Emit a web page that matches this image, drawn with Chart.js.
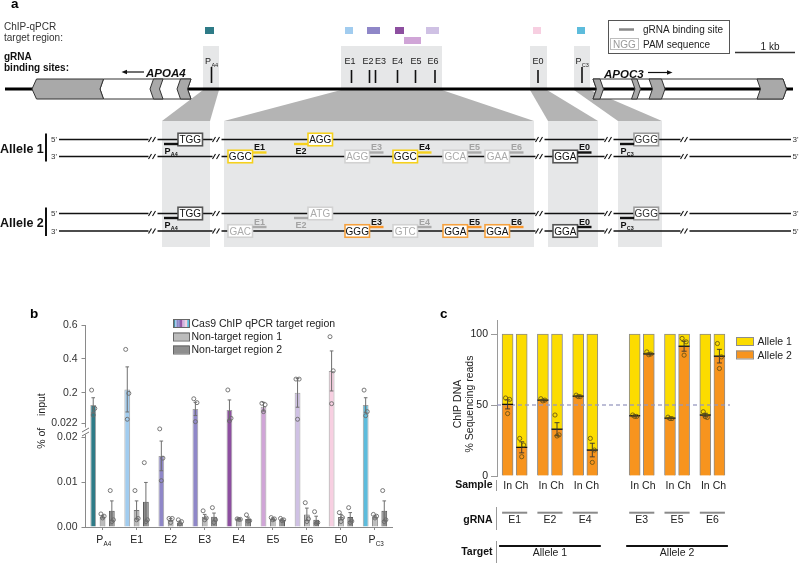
<!DOCTYPE html>
<html><head><meta charset="utf-8">
<script src="https://cdn.jsdelivr.net/npm/chart.js@4.4.1/dist/chart.umd.min.js"></script>
<style>
html,body{margin:0;padding:0;background:#fff;}
#wrap{position:relative;width:800px;height:563px;overflow:hidden;background:#fff;}
canvas{position:absolute;}
</style></head>
<body><div id="wrap">
<canvas id="ca" width="800" height="290" style="left:0;top:0"></canvas>
<canvas id="cb" width="400" height="273" style="left:0;top:290px"></canvas>
<canvas id="cc" width="400" height="273" style="left:400px;top:290px"></canvas>
</div>
<script>
// ================= DATA =================
// ---- panel b : Cas9 ChIP-qPCR (% of input) ----
const bCategories = ['PA4','E1','E2','E3','E4','E5','E6','E0','PC3'];
const bLabelMain  = ['P','E1','E2','E3','E4','E5','E6','E0','P'];
const bLabelSub   = ['A4','','','','','','','','C3'];
const bTargetMean = [0.128, 0.220, 0.0158, 0.105, 0.099, 0.118, 0.200, 0.329, 0.128];
const bTargetSem  = [0.043, 0.133, 0.0033, 0.039, 0.059, 0.026, 0.085, 0.118, 0.043];
const bTargetPoints = [
  [0.216, 0.108, 0.069], [0.456, 0.197, 0.044], [0.0218, 0.0153, 0.0103],
  [0.165, 0.142, 0.030], [0.217, 0.050, 0.034], [0.138, 0.130, 0.089],
  [0.281, 0.281, 0.044], [0.531, 0.330, 0.136], [0.216, 0.089, 0.065]];
const bNT1Mean = [0.0023, 0.0038, 0.0016, 0.0023, 0.0018, 0.0018, 0.0028, 0.0022, 0.0023];
const bNT1Sem  = [0.0003, 0.0020, 0.0003, 0.0005, 0.0001, 0.0002, 0.0014, 0.0006, 0.0003];
const bNT1Points = [
  [0.0029, 0.0024, 0.0020], [0.0081, 0.0019, 0.0016], [0.0019, 0.0019, 0.0010],
  [0.0036, 0.0020, 0.0016], [0.0018, 0.0017, 0.0017], [0.0021, 0.0018, 0.0016],
  [0.0054, 0.0018, 0.0012], [0.0032, 0.0021, 0.0012], [0.0028, 0.0024, 0.0020]];
const bNT2Mean = [0.0036, 0.0056, 0.0010, 0.0023, 0.0018, 0.0016, 0.0016, 0.0022, 0.0036];
const bNT2Sem  = [0.0022, 0.0043, 0.0003, 0.0008, 0.0004, 0.0002, 0.0008, 0.0010, 0.0022];
const bNT2Points = [
  [0.0081, 0.0016, 0.0012], [0.0143, 0.0016, 0.0012], [0.0016, 0.0012, 0.0007],
  [0.0043, 0.0016, 0.0010], [0.0027, 0.0014, 0.0013], [0.0019, 0.0016, 0.0014],
  [0.0034, 0.0010, 0.0008], [0.0043, 0.0013, 0.0010], [0.0081, 0.0016, 0.0012]];
const bYTicks      = [0, 0.01, 0.02, 0.022, 0.2, 0.4, 0.6];
const bYTickLabels = ['0.00', '0.01', '0.02', '0.022', '0.2', '0.4', '0.6'];
const bSeriesNames = ['Cas9 ChIP qPCR target region', 'Non-target region 1', 'Non-target region 2'];

// ---- panel c : allele-specific ChIP reads (%) ----
const cGuides  = ['E1','E2','E4','E3','E5','E6'];
const cTargets = ['Allele 1','Allele 2'];
const cSamples = ['In','Ch'];
const cAllele2 = [50.5, 20.2, 53.5, 33.0, 56.3, 18.3, 42.5, 86.1, 40.8, 91.5, 43.0, 84.5];
const cAllele1 = [49.5, 79.8, 46.5, 67.0, 43.7, 81.7, 57.5, 13.9, 59.2, 8.5, 57.0, 15.5];
const cSem     = [3.2, 3.9, 0.5, 4.6, 0.4, 4.8, 0.3, 0.6, 0.3, 3.5, 1.2, 4.8];
const cPoints  = [
  [55.0, 54.0, 44.0], [26.5, 21.8, 13.6], [54.5, 53.5, 53.0], [43.0, 29.0, 28.2],
  [57.0, 56.0, 56.0], [26.5, 18.3, 9.6],  [43.0, 42.0, 42.0], [87.5, 86.0, 85.5],
  [41.5, 40.5, 40.5], [97.0, 94.6, 85.2], [45.3, 41.3, 41.8], [93.4, 84.0, 75.8]];
const cYTicks = [0, 50, 100];

// ---- panel a : schematic content ----
const aTargetNames = ['PA4','E1','E2-E3','E4','E5','E6','E0','PC3'];
const aSiteNames   = ['PA4','E1','E2','E3','E4','E5','E6','E0','PC3'];
const allele1Sites = [
  {seq:'TGG', strand:'top', st:'dark',   g:'PA4'}, {seq:'AGG', strand:'top', st:'yellow', g:'E2'},
  {seq:'GGG', strand:'top', st:'light',  g:'PC3'}, {seq:'GGC', strand:'bot', st:'yellow', g:'E1'},
  {seq:'AGG', strand:'bot', st:'gray',   g:'E3'},  {seq:'GGC', strand:'bot', st:'yellow', g:'E4'},
  {seq:'GCA', strand:'bot', st:'gray',   g:'E5'},  {seq:'GAA', strand:'bot', st:'gray',   g:'E6'},
  {seq:'GGA', strand:'bot', st:'dark',   g:'E0'}];
const allele2Sites = [
  {seq:'TGG', strand:'top', st:'dark',   g:'PA4'}, {seq:'ATG', strand:'top', st:'gray',   g:'E2'},
  {seq:'GGG', strand:'top', st:'light',  g:'PC3'}, {seq:'GAC', strand:'bot', st:'gray',   g:'E1'},
  {seq:'GGG', strand:'bot', st:'orange', g:'E3'},  {seq:'GTC', strand:'bot', st:'gray',   g:'E4'},
  {seq:'GGA', strand:'bot', st:'orange', g:'E5'},  {seq:'GGA', strand:'bot', st:'orange', g:'E6'},
  {seq:'GGA', strand:'bot', st:'dark',   g:'E0'}];

// ================= STYLE / LAYOUT =================
const FONT = '"Liberation Sans", Arial, Helvetica, sans-serif';
Chart.defaults.font.family = FONT;
Chart.defaults.color = '#222';
const siteColor = {PA4:'#2e7b87', E1:'#a1ccef', E2:'#8f87c8', E3:'#8f87c8', E4:'#8d4fa0', E5:'#d0a5d7', E6:'#cfc1e4', E0:'#f7cfe1', PC3:'#5dbcdc'};

function txt(ctx, s, x, y, size, o) {
  o = o || {};
  ctx.save();
  ctx.font = (o.style || '') + ' ' + (o.weight || 'normal') + ' ' + size + 'px ' + FONT;
  ctx.fillStyle = o.color || '#222';
  ctx.textAlign = o.align || 'left';
  ctx.textBaseline = 'alphabetic';
  if (o.rot) { ctx.translate(x, y); ctx.rotate(o.rot); ctx.fillText(s, 0, 0); }
  else ctx.fillText(s, x, y);
  ctx.restore();
}
function subTxt(ctx, main, sub, x, y, size, o) {
  o = o || {};
  ctx.save();
  const w = o.weight || 'normal';
  const s2 = size * (o.subScale || 0.62);
  ctx.font = w + ' ' + size + 'px ' + FONT; const w1 = ctx.measureText(main).width;
  ctx.font = w + ' ' + s2 + 'px ' + FONT; const w2 = sub ? ctx.measureText(sub).width : 0;
  let x0 = x;
  if (o.align === 'center') x0 = x - (w1 + w2) / 2;
  ctx.fillStyle = o.color || '#222'; ctx.textAlign = 'left'; ctx.textBaseline = 'alphabetic';
  ctx.font = w + ' ' + size + 'px ' + FONT; ctx.fillText(main, x0, y);
  if (sub) { ctx.font = w + ' ' + s2 + 'px ' + FONT; ctx.fillText(sub, x0 + w1 + 0.3, y + size * 0.3); }
  ctx.restore();
}
function splitSite(n) { return n[0] === 'P' ? ['P', n.slice(1)] : [n, '']; }

// ================= PANEL A (schematic drawn through chart A scales) =================
const aLayout = {
  targets: [[205,214,27],[345,353,27],[367,380,27],[395,404,27],[404,421,37],[426,439,27],[533,541,27],[577,585,27]],
  siteTick: [211.5, 351.5, 369.5, 375.5, 397.5, 415.5, 435, 538, 582],
  siteLabel:[211.5, 350, 368, 380.5, 397.5, 416, 433, 538, 582],
  regions: [{up:[203,219], low:[162,210]}, {up:[341,442], low:[224,534]}, {up:[530,547], low:[548,598]}, {up:[574,590], low:[618,662]}],
  pamX: [178, 308, 634, 228, 345, 393, 443, 485, 553],
  rows: [{top:139.5, bot:156.5}, {top:213.5, bot:231}],
  breaks: [153, 217, 540, 609, 685]
};
const boxStyle = {dark:{s:'#555',t:'#111'}, light:{s:'#9b9b9b',t:'#333'}, yellow:{s:'#f6d11c',t:'#111'}, orange:{s:'#f5a13e',t:'#111'}, gray:{s:'#d2d2d2',t:'#ababab'}};
const guideColor = {dark:'#111', light:'#111', yellow:'#f6d11c', orange:'#f7962b', gray:'#ababab'};

const diagramPlugin = {
  id: 'diagram',
  afterDraw(chart) {
    const ctx = chart.ctx, sx = chart.scales.x, sy = chart.scales.y;
    const X = v => sx.getPixelForValue(v), Y = v => sy.getPixelForValue(v);
    const poly = (pts, fill, stroke, lw) => {
      ctx.beginPath();
      pts.forEach((p, i) => i ? ctx.lineTo(X(p[0]), Y(p[1])) : ctx.moveTo(X(p[0]), Y(p[1])));
      ctx.closePath();
      if (fill) { ctx.fillStyle = fill; ctx.fill(); }
      if (stroke) { ctx.strokeStyle = stroke; ctx.lineWidth = lw || 1; ctx.stroke(); }
    };
    const ln = (x1, y1, x2, y2, c, lw) => {
      ctx.beginPath(); ctx.moveTo(X(x1), Y(y1)); ctx.lineTo(X(x2), Y(y2));
      ctx.strokeStyle = c; ctx.lineWidth = lw || 1; ctx.stroke();
    };
    const rc = (x1, y1, x2, y2, fill, stroke, lw) => {
      if (fill) { ctx.fillStyle = fill; ctx.fillRect(X(x1), Y(y1), X(x2) - X(x1), Y(y2) - Y(y1)); }
      if (stroke) { ctx.strokeStyle = stroke; ctx.lineWidth = lw || 1; ctx.strokeRect(X(x1), Y(y1), X(x2) - X(x1), Y(y2) - Y(y1)); }
    };
    const T = (s, x, y, size, o) => txt(ctx, s, X(x), Y(y), size, o);
    const ST = (m, s, x, y, size, o) => subTxt(ctx, m, s, X(x), Y(y), size, o);
    const L = aLayout;

    ctx.save();
    T('a', 11, 8, 13.5, {weight:'bold', color:'#000'});
    T('ChIP-qPCR', 4, 29.5, 10, {color:'#333'});
    T('target region:', 4, 40.5, 10, {color:'#333'});
    T('gRNA', 4, 59.5, 10, {weight:'bold', color:'#111'});
    T('binding sites:', 4, 70.5, 10, {weight:'bold', color:'#111'});

    // shaded regions, projections, zoomed boxes
    L.regions.forEach(r => rc(r.up[0], 46, r.up[1], 89, '#e6e7e8'));
    L.regions.forEach(r => poly([[r.up[0], 90], [r.up[1], 90], [r.low[1], 121], [r.low[0], 121]], '#b4b4b4'));
    L.regions.forEach(r => rc(r.low[0], 121, r.low[1], 247, '#e6e7e8'));

    // ChIP-qPCR target squares
    aTargetNames.forEach((n, i) => {
      const t = L.targets[i];
      rc(t[0], t[2], t[1], t[2] + 7, siteColor[n.split('-')[0]]);
    });
    // gRNA binding sites ticks + labels
    aSiteNames.forEach((n, i) => {
      const [m, s] = splitSite(n);
      ln(L.siteTick[i], n[0] === 'P' ? 67 : 70, L.siteTick[i], 83, '#111', 1.6);
      ST(m, s, L.siteLabel[i], 64, 9, {align:'center', color:'#222', subScale:0.62});
    });

    // main chromosome line
    ln(5, 89, 793, 89, '#000', 3);

    // APOA4 (minus strand)
    const chevL = (a, b) => [[a + 3.5, 79], [b + 3.5, 79], [b, 89], [b + 3.5, 99], [a + 3.5, 99], [a, 89]];
    const chevR = (a, b) => [[a, 79], [b, 79], [b + 3.5, 89], [b, 99], [a, 99], [a + 3.5, 89]];
    poly([[100, 89], [103.5, 79], [191, 79], [187.5, 89], [191, 99], [103.5, 99]], '#fff', '#333', 1);
    poly([[32, 89], [36.5, 79], [103.5, 79], [100, 89], [103.5, 99], [36.5, 99]], '#a9a9a9', '#333', 1);
    poly(chevL(150, 159.5), '#a9a9a9', '#333', 1);
    poly(chevL(177, 187.5), '#a9a9a9', '#333', 1);
    T('APOA4', 146, 76.5, 11.5, {weight:'bold', style:'italic', color:'#111'});
    ln(125, 72, 144, 72, '#111', 1.2);
    poly([[121.5, 72], [127, 69.8], [127, 74.2]], '#111');

    // APOC3 (plus strand)
    poly([[593, 79], [783, 79], [786.5, 89], [783, 99], [593, 99], [596.5, 89]], '#fff', '#333', 1);
    ln(596.5, 89, 786.5, 89, '#000', 3);
    poly(chevR(593, 600), '#a9a9a9', '#333', 1);
    poly(chevR(631.5, 637), '#a9a9a9', '#333', 1);
    poly(chevR(649, 661.5), '#a9a9a9', '#333', 1);
    poly(chevR(757, 783), '#a9a9a9', '#333', 1);
    T('APOC3', 604, 77.5, 11.5, {weight:'bold', style:'italic', color:'#111'});
    ln(648, 72.5, 667, 72.5, '#111', 1.2);
    poly([[672.5, 72.5], [667, 70.3], [667, 74.7]], '#111');

    // legend box
    rc(608.5, 20.5, 729.5, 53.5, null, '#555', 1);
    ln(619, 29.5, 634, 29.5, '#888', 2.5);
    T('gRNA binding site', 643, 33, 10, {color:'#222'});
    rc(610.5, 38.5, 638.5, 49.5, null, '#bdbdbd', 1);
    T('NGG', 624.5, 47.5, 10, {color:'#9a9a9a', align:'center'});
    T('PAM sequence', 643, 47.5, 10, {color:'#222'});
    // scale bar
    ln(735, 52.5, 795, 52.5, '#333', 1.5);
    T('1 kb', 770, 49.5, 10, {color:'#222', align:'center'});

    // alleles
    [allele1Sites, allele2Sites].forEach((sites, ai) => {
      const r = L.rows[ai];
      const mid = (r.top + r.bot) / 2;
      T('Allele ' + (ai + 1), 0, mid + 4.8, 12.5, {weight:'bold', color:'#111'});
      ln(46, r.top - 6, 46, r.bot + 5, '#111', 2);
      T("5'", 51, r.top + 2.5, 8, {color:'#333'});
      T("3'", 51, r.bot + 2.5, 8, {color:'#333'});
      ln(59, r.top, 791, r.top, '#111', 1.5);
      ln(59, r.bot, 791, r.bot, '#111', 1.5);
      T("3'", 792.5, r.top + 2.5, 8, {color:'#333'});
      T("5'", 792.5, r.bot + 2.5, 8, {color:'#333'});
      // break marks
      L.breaks.forEach(bx => [r.top, r.bot].forEach(yy => {
        rc(bx - 4.5, yy - 2, bx + 4.5, yy + 2, '#fff');
        ln(bx - 4.5, yy + 2.5, bx - 1.5, yy - 2.5, '#111', 1.1);
        ln(bx - 0.5, yy + 2.5, bx + 2.5, yy - 2.5, '#111', 1.1);
      }));
      // PAM boxes and guides
      sites.forEach((s, si) => {
        const x = L.pamX[si], bw = 24.5, bh = 12.5;
        const yc = s.strand === 'top' ? r.top : r.bot;
        const bs = boxStyle[s.st];
        rc(x, yc - bh / 2, x + bw, yc + bh / 2, '#fff', bs.s, 1.6);
        T(s.seq, x + bw / 2, yc + 3.7, 10, {color:bs.t, align:'center'});
        const gc = guideColor[s.st];
        const lc = s.st === 'gray' ? '#a3a3a3' : '#111';
        const [m, sub] = splitSite(s.g);
        if (s.strand === 'top') {
          ln(x - 14, r.top + 4.5, x, r.top + 4.5, gc, 2.4);
          ST(m, sub, x - 7, r.top + 14, 9, {align:'center', weight:'bold', color:lc, subScale:0.6});
        } else {
          ln(x + bw, r.bot - 4, x + bw + 14, r.bot - 4, gc, 2.4);
          ST(m, sub, x + bw + 7, r.bot - 6.5, 9, {align:'center', weight:'bold', color:lc, subScale:0.6});
        }
      });
    });
    ctx.restore();
  }
};

new Chart(document.getElementById('ca'), {
  type: 'scatter',
  data: { datasets: [] },
  options: {
    responsive: false, animation: false, devicePixelRatio: 1,
    layout: { padding: 0 },
    plugins: { legend: { display: false }, tooltip: { enabled: false } },
    scales: {
      x: { type: 'linear', display: false, min: 0, max: 800 },
      y: { type: 'linear', display: false, min: 0, max: 290, reverse: true }
    }
  },
  plugins: [diagramPlugin]
});

// ================= PANEL B (broken y axis) =================
const BRK = { value: 0.022, low: 99 / 202, high: 104 / 202 };
class BrokenScale extends Chart.LinearScale {
  getPixelForValue(v) {
    if (v === null || v === undefined || isNaN(v)) return NaN;
    let d;
    if (v < BRK.value) d = (v - this.min) / (BRK.value - this.min) * BRK.low;
    else d = BRK.high + (v - BRK.value) / (this.max - BRK.value) * (1 - BRK.high);
    return this.getPixelForDecimal(d);
  }
  getValueForPixel(p) {
    const d = this.getDecimalForPixel(p);
    if (d < BRK.low) return this.min + d / BRK.low * (BRK.value - this.min);
    return BRK.value + (d - BRK.high) / (1 - BRK.high) * (this.max - BRK.value);
  }
}
BrokenScale.id = 'broken';
BrokenScale.defaults = Chart.LinearScale.defaults;
Chart.register(BrokenScale);

const bSems = [bTargetSem, bNT1Sem, bNT2Sem];
const bPts = [bTargetPoints, bNT1Points, bNT2Points];
const jitter = [-1.6, 1.6, 0];
const bPlugin = {
  id: 'bExtras',
  afterDatasetsDraw(chart) {
    const ctx = chart.ctx, ys = chart.scales.y;
    ctx.save();
    [0, 1, 2].forEach(di => {
      const meta = chart.getDatasetMeta(di);
      meta.data.forEach((el, j) => {
        const m = chart.data.datasets[di].data[j], s = bSems[di][j];
        const x = el.x;
        const yT = ys.getPixelForValue(m + s), yB = ys.getPixelForValue(Math.max(m - s, 0));
        ctx.strokeStyle = '#6f6f6f'; ctx.lineWidth = 1;
        ctx.beginPath(); ctx.moveTo(x, yT); ctx.lineTo(x, yB);
        ctx.moveTo(x - 1.8, yT); ctx.lineTo(x + 1.8, yT);
        ctx.moveTo(x - 1.8, yB); ctx.lineTo(x + 1.8, yB); ctx.stroke();
        bPts[di][j].forEach((p, k) => {
          ctx.beginPath(); ctx.arc(x + jitter[k], ys.getPixelForValue(p), 2, 0, Math.PI * 2);
          ctx.strokeStyle = '#6a6a6a'; ctx.lineWidth = 0.9; ctx.stroke();
        });
      });
    });
    ctx.restore();
  },
  afterDraw(chart) {
    const ctx = chart.ctx, xs = chart.scales.x, ys = chart.scales.y;
    ctx.save();
    // axis break on y axis
    const yb = ys.getPixelForValue(0.021);
    ctx.fillStyle = '#fff'; ctx.fillRect(xs.left - 5, yb - 5, 4.5, 7);
    ctx.fillRect(xs.left - 1, yb - 5, 2.5, 7);
    ctx.strokeStyle = '#777'; ctx.lineWidth = 1;
    ctx.beginPath();
    ctx.moveTo(xs.left - 3.5, yb - 0.5); ctx.lineTo(xs.left + 3.5, yb - 4.5);
    ctx.moveTo(xs.left - 3.5, yb + 3.5); ctx.lineTo(xs.left + 3.5, yb - 0.5);
    ctx.stroke();
    // x labels with subscripts
    bCategories.forEach((c, i) => {
      subTxt(ctx, bLabelMain[i], bLabelSub[i], xs.getPixelForValue(i) + (bLabelSub[i] ? 1 : 0), xs.bottom - 20.5, 10.5, {align:'center', color:'#222', subScale:0.6});
    });
    txt(ctx, 'b', 30, 28, 13.5, {weight:'bold', color:'#000'});
    txt(ctx, '% of    input', 44.5, 131, 10.5, {color:'#222', align:'center', rot:-Math.PI / 2});
    // legend
    const lx = 173, ly = [29, 42.5, 55.5];
    const cols = bCategories.map(c => siteColor[c]);
    const sw = 16 / cols.length;
    cols.forEach((c, k) => { ctx.fillStyle = c; ctx.fillRect(lx + k * sw, ly[0], sw + 0.2, 8); });
    ctx.fillStyle = '#bcbcbc'; ctx.fillRect(lx, ly[1], 16, 8);
    ctx.fillStyle = '#8e8e8e'; ctx.fillRect(lx, ly[2], 16, 8);
    ctx.strokeStyle = '#666'; ctx.lineWidth = 1;
    ly.forEach(y => ctx.strokeRect(lx + 0.5, y + 0.5, 16, 8));
    bSeriesNames.forEach((n, k) => txt(ctx, n, 191.5, ly[k] + 7.8, 10.5, {color:'#222'}));
    ctx.restore();
  }
};

new Chart(document.getElementById('cb'), {
  type: 'bar',
  data: {
    labels: bCategories,
    datasets: [
      { label: bSeriesNames[0], data: bTargetMean, backgroundColor: bCategories.map(c => siteColor[c]), borderColor: 'rgba(50,50,50,0.45)', borderWidth: 1, categoryPercentage: 0.82, barPercentage: 0.62 },
      { label: bSeriesNames[1], data: bNT1Mean, backgroundColor: '#bcbcbc', borderColor: '#777', borderWidth: 1, categoryPercentage: 0.82, barPercentage: 0.62 },
      { label: bSeriesNames[2], data: bNT2Mean, backgroundColor: '#8e8e8e', borderColor: '#5a5a5a', borderWidth: 1, categoryPercentage: 0.82, barPercentage: 0.62 }
    ]
  },
  options: {
    responsive: false, animation: false, devicePixelRatio: 1,
    layout: { padding: { left: 0, right: 8, top: 35, bottom: 0 } },
    plugins: { legend: { display: false }, tooltip: { enabled: false } },
    scales: {
      x: {
        type: 'category', offset: true,
        grid: { display: true, drawOnChartArea: false, offset: false, tickLength: 3, color: '#8a8a8a' },
        border: { display: true, color: '#8a8a8a', width: 1 },
        ticks: { callback: () => '', padding: 0 },
        afterFit: s => { s.height = 36; }
      },
      y: {
        type: 'broken', min: 0, max: 0.6,
        afterBuildTicks: s => { s.ticks = bYTicks.map(v => ({ value: v })); },
        afterFit: s => { s.width = 85.5; },
        ticks: { callback: (v, i) => bYTickLabels[i], font: { size: 10.5 }, color: '#333', padding: 4, autoSkip: false },
        grid: { display: true, drawOnChartArea: false, tickLength: 4, color: '#8a8a8a' },
        border: { display: true, color: '#8a8a8a', width: 1 }
      }
    }
  },
  plugins: [bPlugin]
});

// ================= PANEL C (stacked allele fractions) =================
const C_SLOTS = 33;
const slotOf = (g, s) => 1 + g * 5 + s * 2 + (g >= 3 ? 3 : 0);
const cLabels = Array(C_SLOTS).fill('');
const cData2 = Array(C_SLOTS).fill(null), cData1 = Array(C_SLOTS).fill(null);
cGuides.forEach((g, gi) => cSamples.forEach((s, si) => {
  const k = slotOf(gi, si);
  cLabels[k] = s;
  cData2[k] = cAllele2[gi * 2 + si];
  cData1[k] = cAllele1[gi * 2 + si];
}));

const cPlugin = {
  id: 'cExtras',
  afterDatasetsDraw(chart) {
    const ctx = chart.ctx, ys = chart.scales.y, xs = chart.scales.x;
    const meta = chart.getDatasetMeta(0);
    ctx.save();
    // 50 % reference
    const y50 = ys.getPixelForValue(50);
    ctx.setLineDash([4, 3]); ctx.strokeStyle = 'rgba(150,152,190,0.85)'; ctx.lineWidth = 1.5;
    ctx.beginPath(); ctx.moveTo(xs.left, y50); ctx.lineTo(xs.right, y50); ctx.stroke();
    ctx.setLineDash([]);
    cGuides.forEach((g, gi) => cSamples.forEach((s, si) => {
      const k = slotOf(gi, si), idx = gi * 2 + si;
      const el = meta.data[k];
      const x = el.x, m = cAllele2[idx], e = cSem[idx];
      ctx.strokeStyle = '#111'; ctx.lineWidth = 1.3;
      ctx.beginPath(); ctx.moveTo(x - 5.5, el.y); ctx.lineTo(x + 5.5, el.y); ctx.stroke();
      const yT = ys.getPixelForValue(m + e), yB = ys.getPixelForValue(m - e);
      ctx.lineWidth = 0.9; ctx.strokeStyle = '#333';
      ctx.beginPath(); ctx.moveTo(x, yT); ctx.lineTo(x, yB);
      ctx.moveTo(x - 2.5, yT); ctx.lineTo(x + 2.5, yT);
      ctx.moveTo(x - 2.5, yB); ctx.lineTo(x + 2.5, yB); ctx.stroke();
      cPoints[idx].forEach((p, j) => {
        ctx.beginPath(); ctx.arc(x + [-2, 2, 0][j], ys.getPixelForValue(p), 2.1, 0, Math.PI * 2);
        ctx.strokeStyle = 'rgba(95,78,20,0.9)'; ctx.lineWidth = 0.9; ctx.stroke();
      });
    }));
    ctx.restore();
  },
  afterDraw(chart) {
    const ctx = chart.ctx, xs = chart.scales.x;
    const meta = chart.getDatasetMeta(0);
    ctx.save();
    txt(ctx, 'c', 40, 28, 13.5, {weight:'bold', color:'#000'});
    txt(ctx, 'ChIP DNA', 61, 114, 10.5, {color:'#222', align:'center', rot:-Math.PI / 2});
    txt(ctx, '% Sequencing reads', 72.5, 114, 10.5, {color:'#222', align:'center', rot:-Math.PI / 2});
    // legend
    [['Allele 1', '#fcdc00', 47], ['Allele 2', '#f7941e', 60.5]].forEach(([n, c, y]) => {
      ctx.fillStyle = c; ctx.fillRect(336, y, 17, 8);
      ctx.strokeStyle = '#8d8d8d'; ctx.lineWidth = 1; ctx.strokeRect(336.5, y + 0.5, 17, 8);
      txt(ctx, n, 357.5, y + 8, 10.5, {color:'#222'});
    });
    // annotation rows
    const ax = 96.5;
    ctx.strokeStyle = '#9a9a9a'; ctx.lineWidth = 1;
    [[190, 201], [217, 240], [251, 273]].forEach(([a, b]) => { ctx.beginPath(); ctx.moveTo(ax, a); ctx.lineTo(ax, b); ctx.stroke(); });
    txt(ctx, 'Sample', 92.5, 198, 10.5, {weight:'bold', color:'#111', align:'right'});
    txt(ctx, 'gRNA', 92.5, 233, 10.5, {weight:'bold', color:'#111', align:'right'});
    txt(ctx, 'Target', 92.5, 265, 10.5, {weight:'bold', color:'#111', align:'right'});
    cGuides.forEach((g, gi) => {
      const x1 = meta.data[slotOf(gi, 0)].x - 5.5, x2 = meta.data[slotOf(gi, 1)].x + 5.5;
      ctx.strokeStyle = '#8a8a8a'; ctx.lineWidth = 2;
      ctx.beginPath(); ctx.moveTo(x1, 222.7); ctx.lineTo(x2, 222.7); ctx.stroke();
      txt(ctx, g, (x1 + x2) / 2, 233, 10.5, {color:'#222', align:'center'});
    });
    cTargets.forEach((t, ti) => {
      const x1 = meta.data[slotOf(ti * 3, 0)].x - 8.5, x2 = meta.data[slotOf(ti * 3 + 2, 1)].x + 8.5;
      ctx.strokeStyle = '#111'; ctx.lineWidth = 2;
      ctx.beginPath(); ctx.moveTo(x1, 256); ctx.lineTo(x2, 256); ctx.stroke();
      txt(ctx, t, (x1 + x2) / 2, 266, 10.5, {color:'#222', align:'center'});
    });
    ctx.restore();
  }
};

new Chart(document.getElementById('cc'), {
  type: 'bar',
  data: {
    labels: cLabels,
    datasets: [
      { label: 'Allele 2', data: cData2, backgroundColor: '#f7941e', borderColor: '#8d8d8d', borderWidth: 1, barThickness: 11 },
      { label: 'Allele 1', data: cData1, backgroundColor: '#fcdc00', borderColor: '#8d8d8d', borderWidth: 1, barThickness: 11 }
    ]
  },
  options: {
    responsive: false, animation: false, devicePixelRatio: 1,
    layout: { padding: { left: 0, right: 70, top: 30, bottom: 0 } },
    plugins: { legend: { display: false }, tooltip: { enabled: false } },
    scales: {
      x: {
        type: 'category', stacked: true, offset: true,
        grid: { display: false, drawTicks: false },
        border: { display: false },
        ticks: { autoSkip: false, maxRotation: 0, minRotation: 0, padding: 4, font: { size: 10.5 }, color: '#222' },
        afterFit: s => { s.height = 87; }
      },
      y: {
        type: 'linear', stacked: true, min: 0, max: 110,
        afterBuildTicks: s => { s.ticks = cYTicks.map(v => ({ value: v })); },
        afterFit: s => { s.width = 97; },
        ticks: { font: { size: 10.5 }, color: '#222', padding: 3 },
        grid: { display: true, drawOnChartArea: false, tickLength: 6, color: '#9a9a9a' },
        border: { display: true, color: '#9a9a9a', width: 1 }
      }
    }
  },
  plugins: [cPlugin]
});
</script>
</body></html>
